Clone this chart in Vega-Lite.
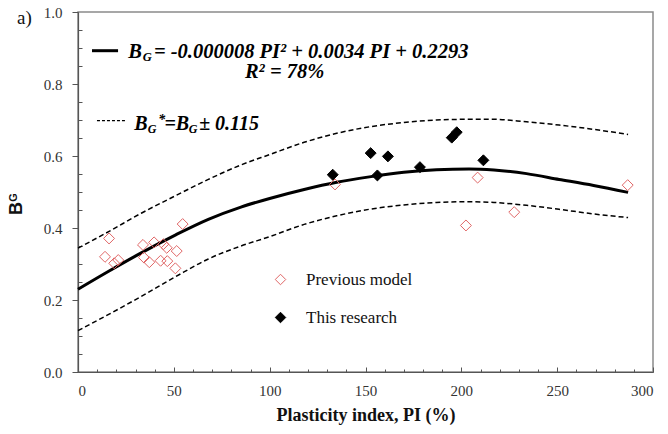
{
  "$schema": "https://vega.github.io/schema/vega-lite/v6.json",
  "autosize": {"type": "none"},
  "padding": {"left": 78, "top": 12, "right": 15, "bottom": 62},
  "width": 575,
  "height": 360,
  "background": "white",
  "config": {
    "view": {"stroke": "#8a8a8a", "strokeWidth": 1.5},
    "axis": {"grid": false, "labelFont": "Liberation Serif", "labelFontSize": 15, "labelColor": "#333", "domainColor": "#555", "tickColor": "#555", "domainWidth": 1.2, "tickWidth": 1}
  },
  "datasets": {
    "curves": [
      {"pi": 0, "bg": 0.230, "curve": "fit"}, {"pi": 16, "bg": 0.280, "curve": "fit"}, {"pi": 33, "bg": 0.331, "curve": "fit"}, {"pi": 51, "bg": 0.381, "curve": "fit"}, {"pi": 68, "bg": 0.424, "curve": "fit"}, {"pi": 85, "bg": 0.458, "curve": "fit"}, {"pi": 100, "bg": 0.482, "curve": "fit"}, {"pi": 118, "bg": 0.507, "curve": "fit"}, {"pi": 135, "bg": 0.527, "curve": "fit"}, {"pi": 152, "bg": 0.542, "curve": "fit"}, {"pi": 170, "bg": 0.555, "curve": "fit"}, {"pi": 187, "bg": 0.562, "curve": "fit"}, {"pi": 204, "bg": 0.564, "curve": "fit"}, {"pi": 217, "bg": 0.561, "curve": "fit"}, {"pi": 234, "bg": 0.551, "curve": "fit"}, {"pi": 251, "bg": 0.535, "curve": "fit"}, {"pi": 269, "bg": 0.518, "curve": "fit"}, {"pi": 287, "bg": 0.499, "curve": "fit"},
      {"pi": 0, "bg": 0.344, "curve": "upper"}, {"pi": 16, "bg": 0.390, "curve": "upper"}, {"pi": 33, "bg": 0.441, "curve": "upper"}, {"pi": 51, "bg": 0.490, "curve": "upper"}, {"pi": 68, "bg": 0.535, "curve": "upper"}, {"pi": 85, "bg": 0.575, "curve": "upper"}, {"pi": 100, "bg": 0.604, "curve": "upper"}, {"pi": 118, "bg": 0.638, "curve": "upper"}, {"pi": 135, "bg": 0.663, "curve": "upper"}, {"pi": 152, "bg": 0.681, "curve": "upper"}, {"pi": 170, "bg": 0.693, "curve": "upper"}, {"pi": 187, "bg": 0.700, "curve": "upper"}, {"pi": 204, "bg": 0.702, "curve": "upper"}, {"pi": 217, "bg": 0.702, "curve": "upper"}, {"pi": 234, "bg": 0.695, "curve": "upper"}, {"pi": 251, "bg": 0.686, "curve": "upper"}, {"pi": 269, "bg": 0.674, "curve": "upper"}, {"pi": 287, "bg": 0.660, "curve": "upper"},
      {"pi": 0, "bg": 0.115, "curve": "lower"}, {"pi": 16, "bg": 0.160, "curve": "lower"}, {"pi": 33, "bg": 0.210, "curve": "lower"}, {"pi": 51, "bg": 0.265, "curve": "lower"}, {"pi": 68, "bg": 0.314, "curve": "lower"}, {"pi": 85, "bg": 0.350, "curve": "lower"}, {"pi": 100, "bg": 0.376, "curve": "lower"}, {"pi": 118, "bg": 0.410, "curve": "lower"}, {"pi": 135, "bg": 0.434, "curve": "lower"}, {"pi": 152, "bg": 0.452, "curve": "lower"}, {"pi": 170, "bg": 0.464, "curve": "lower"}, {"pi": 187, "bg": 0.471, "curve": "lower"}, {"pi": 204, "bg": 0.473, "curve": "lower"}, {"pi": 217, "bg": 0.471, "curve": "lower"}, {"pi": 234, "bg": 0.463, "curve": "lower"}, {"pi": 251, "bg": 0.452, "curve": "lower"}, {"pi": 269, "bg": 0.439, "curve": "lower"}, {"pi": 287, "bg": 0.429, "curve": "lower"}
    ],
    "points": [
      {"pi": 16.2, "bg": 0.371, "series": "Previous model"}, {"pi": 14.1, "bg": 0.320, "series": "Previous model"}, {"pi": 18.9, "bg": 0.302, "series": "Previous model"}, {"pi": 21.0, "bg": 0.311, "series": "Previous model"}, {"pi": 33.9, "bg": 0.353, "series": "Previous model"}, {"pi": 34.4, "bg": 0.318, "series": "Previous model"}, {"pi": 37.2, "bg": 0.305, "series": "Previous model"}, {"pi": 39.7, "bg": 0.360, "series": "Previous model"}, {"pi": 43.1, "bg": 0.309, "series": "Previous model"}, {"pi": 44.5, "bg": 0.355, "series": "Previous model"}, {"pi": 46.3, "bg": 0.345, "series": "Previous model"}, {"pi": 46.6, "bg": 0.308, "series": "Previous model"}, {"pi": 51.5, "bg": 0.336, "series": "Previous model"}, {"pi": 50.8, "bg": 0.288, "series": "Previous model"}, {"pi": 54.6, "bg": 0.411, "series": "Previous model"},
      {"pi": 134.1, "bg": 0.521, "series": "Previous model"}, {"pi": 208.5, "bg": 0.540, "series": "Previous model"}, {"pi": 286.8, "bg": 0.519, "series": "Previous model"}, {"pi": 202.4, "bg": 0.407, "series": "Previous model"}, {"pi": 227.6, "bg": 0.444, "series": "Previous model"},
      {"pi": 132.9, "bg": 0.548, "series": "This research"}, {"pi": 152.7, "bg": 0.608, "series": "This research"}, {"pi": 161.7, "bg": 0.599, "series": "This research"}, {"pi": 156.2, "bg": 0.546, "series": "This research"}, {"pi": 178.4, "bg": 0.569, "series": "This research"}, {"pi": 195.0, "bg": 0.651, "series": "This research"}, {"pi": 197.6, "bg": 0.666, "series": "This research"}, {"pi": 211.5, "bg": 0.588, "series": "This research"}
    ]
  },
  "resolve": {"axis": {"x": "independent", "y": "independent"}},
  "layer": [
    {
      "data": {"name": "curves"},
      "transform": [{"filter": "datum.curve == 'fit'"}],
      "mark": {"type": "line", "color": "black", "strokeWidth": 3, "interpolate": "monotone"},
      "encoding": {
        "x": {"field": "pi", "type": "quantitative", "scale": {"domain": [0, 300], "nice": false},
          "axis": {"orient": "bottom", "values": [0, 50, 100, 150, 200, 250, 300], "format": "d", "tickSize": -5, "labelPadding": 16,
            "title": "Plasticity index, PI  (%)", "titleFont": "Liberation Serif", "titleFontSize": 18, "titleFontWeight": "bold", "titleColor": "#111", "titlePadding": 8}},
        "y": {"field": "bg", "type": "quantitative", "scale": {"domain": [0, 1], "nice": false},
          "axis": {"orient": "left", "values": [0, 0.2, 0.4, 0.6, 0.8, 1.0], "format": ".1f", "tickSize": 6, "labelPadding": 10,
            "title": "B", "titleFont": "Liberation Sans", "titleFontSize": 18, "titleFontWeight": "bold", "titleColor": "#111", "titleX": -53, "titleY": 196, "titleAngle": 270}}
      }
    },
    {
      "data": {"name": "curves"},
      "transform": [{"filter": "datum.curve != 'fit'"}],
      "mark": {"type": "line", "color": "black", "strokeWidth": 1.5, "strokeDash": [5, 3], "interpolate": "monotone"},
      "encoding": {
        "x": {"field": "pi", "type": "quantitative", "axis": null},
        "y": {"field": "bg", "type": "quantitative", "axis": null},
        "detail": {"field": "curve"}
      }
    },
    {
      "data": {"name": "points"},
      "mark": {"type": "point", "shape": "diamond", "filled": true, "size": 120, "strokeWidth": 1, "opacity": 1},
      "encoding": {
        "x": {"field": "pi", "type": "quantitative",
          "axis": {"orient": "bottom", "values": [10, 20, 30, 40, 60, 70, 80, 90, 110, 120, 130, 140, 160, 170, 180, 190, 210, 220, 230, 240, 260, 270, 280, 290], "tickSize": -3, "labels": false, "domain": false, "title": null}},
        "y": {"field": "bg", "type": "quantitative",
          "axis": {"orient": "left", "values": [0.05, 0.1, 0.15, 0.25, 0.3, 0.35, 0.45, 0.5, 0.55, 0.65, 0.7, 0.75, 0.85, 0.9, 0.95], "tickSize": -4, "labels": false, "domain": false,
            "title": "G", "titleFont": "Liberation Sans", "titleFontSize": 11, "titleFontWeight": "bold", "titleColor": "#111", "titleX": -60, "titleY": 185, "titleAngle": 270}},
        "fill": {"field": "series", "type": "nominal", "scale": {"domain": ["Previous model", "This research"], "range": ["transparent", "black"]},
          "legend": {"orient": "none", "legendX": 194, "legendY": 259, "title": null, "symbolType": "diamond", "symbolSize": 110, "symbolStrokeWidth": 1, "labelFont": "Liberation Serif", "labelFontSize": 17, "labelColor": "#111", "rowPadding": 20, "labelOffset": 17}},
        "stroke": {"field": "series", "type": "nominal", "scale": {"domain": ["Previous model", "This research"], "range": ["#e06666", "black"]},
          "legend": {"orient": "none", "legendX": 194, "legendY": 259, "title": null, "symbolType": "diamond", "symbolSize": 110, "symbolStrokeWidth": 1, "labelFont": "Liberation Serif", "labelFontSize": 17, "labelColor": "#111", "rowPadding": 20, "labelOffset": 17}}
      }
    },
    {
      "data": {"values": [{}]},
      "mark": {"type": "text", "text": "a)", "font": "Liberation Serif", "fontSize": 19, "align": "left", "baseline": "alphabetic", "color": "#111", "dx": -61, "dy": 12},
      "encoding": {"x": {"datum": 0, "type": "quantitative", "axis": null}, "y": {"datum": 1, "type": "quantitative", "axis": null}}
    },
    {
      "data": {"values": [{}]},
      "mark": {"type": "rule", "color": "black", "strokeWidth": 3},
      "encoding": {"x": {"datum": 7.3, "type": "quantitative", "axis": null}, "x2": {"datum": 20.9}, "y": {"datum": 0.8925, "type": "quantitative", "axis": null}}
    },
    {
      "data": {"values": [{}]},
      "mark": {"type": "rule", "color": "black", "strokeWidth": 1.3, "strokeDash": [3, 2]},
      "encoding": {"x": {"datum": 9.9, "type": "quantitative", "axis": null}, "x2": {"datum": 24.5}, "y": {"datum": 0.698, "type": "quantitative", "axis": null}}
    },
    {
      "data": {"values": [{}]},
      "mark": {"type": "text", "text": "B", "font": "Liberation Serif", "fontStyle": "italic", "fontWeight": "bold", "fontSize": 20.5, "align": "left", "baseline": "alphabetic", "color": "black"},
      "encoding": {"x": {"datum": 26.2, "type": "quantitative", "axis": null}, "y": {"datum": 0.8736, "type": "quantitative", "axis": null}}
    },
    {
      "data": {"values": [{}]},
      "mark": {"type": "text", "text": "G", "font": "Liberation Serif", "fontStyle": "italic", "fontWeight": "bold", "fontSize": 12.5, "align": "left", "baseline": "alphabetic", "color": "black"},
      "encoding": {"x": {"datum": 33.8, "type": "quantitative", "axis": null}, "y": {"datum": 0.864, "type": "quantitative", "axis": null}}
    },
    {
      "data": {"values": [{}]},
      "mark": {"type": "text", "text": "= -0.000008 PI² + 0.0034 PI + 0.2293", "font": "Liberation Serif", "fontStyle": "italic", "fontWeight": "bold", "fontSize": 20.5, "align": "left", "baseline": "alphabetic", "color": "black"},
      "encoding": {"x": {"datum": 39.6, "type": "quantitative", "axis": null}, "y": {"datum": 0.8736, "type": "quantitative", "axis": null}}
    },
    {
      "data": {"values": [{}]},
      "mark": {"type": "text", "text": "R² = 78%", "font": "Liberation Serif", "fontStyle": "italic", "fontWeight": "bold", "fontSize": 20.5, "align": "left", "baseline": "alphabetic", "color": "black"},
      "encoding": {"x": {"datum": 87.1, "type": "quantitative", "axis": null}, "y": {"datum": 0.8167, "type": "quantitative", "axis": null}}
    },
    {
      "data": {"values": [{}]},
      "mark": {"type": "text", "text": "B", "font": "Liberation Serif", "fontStyle": "italic", "fontWeight": "bold", "fontSize": 20, "align": "left", "baseline": "alphabetic", "color": "black"},
      "encoding": {"x": {"datum": 29.4, "type": "quantitative", "axis": null}, "y": {"datum": 0.6722, "type": "quantitative", "axis": null}}
    },
    {
      "data": {"values": [{}]},
      "mark": {"type": "text", "text": "G", "font": "Liberation Serif", "fontStyle": "italic", "fontWeight": "bold", "fontSize": 12, "align": "left", "baseline": "alphabetic", "color": "black"},
      "encoding": {"x": {"datum": 36.4, "type": "quantitative", "axis": null}, "y": {"datum": 0.6639, "type": "quantitative", "axis": null}}
    },
    {
      "data": {"values": [{}]},
      "mark": {"type": "text", "text": "*", "font": "Liberation Serif", "fontStyle": "italic", "fontWeight": "bold", "fontSize": 14, "align": "left", "baseline": "alphabetic", "color": "black"},
      "encoding": {"x": {"datum": 41.9, "type": "quantitative", "axis": null}, "y": {"datum": 0.6889, "type": "quantitative", "axis": null}}
    },
    {
      "data": {"values": [{}]},
      "mark": {"type": "text", "text": "=B", "font": "Liberation Serif", "fontStyle": "italic", "fontWeight": "bold", "fontSize": 20, "align": "left", "baseline": "alphabetic", "color": "black"},
      "encoding": {"x": {"datum": 45.1, "type": "quantitative", "axis": null}, "y": {"datum": 0.6722, "type": "quantitative", "axis": null}}
    },
    {
      "data": {"values": [{}]},
      "mark": {"type": "text", "text": "G", "font": "Liberation Serif", "fontStyle": "italic", "fontWeight": "bold", "fontSize": 12, "align": "left", "baseline": "alphabetic", "color": "black"},
      "encoding": {"x": {"datum": 57.8, "type": "quantitative", "axis": null}, "y": {"datum": 0.6639, "type": "quantitative", "axis": null}}
    },
    {
      "data": {"values": [{}]},
      "mark": {"type": "text", "text": "± 0.115", "font": "Liberation Serif", "fontStyle": "italic", "fontWeight": "bold", "fontSize": 20, "align": "left", "baseline": "alphabetic", "color": "black"},
      "encoding": {"x": {"datum": 63.2, "type": "quantitative", "axis": null}, "y": {"datum": 0.6722, "type": "quantitative", "axis": null}}
    }
  ]
}
